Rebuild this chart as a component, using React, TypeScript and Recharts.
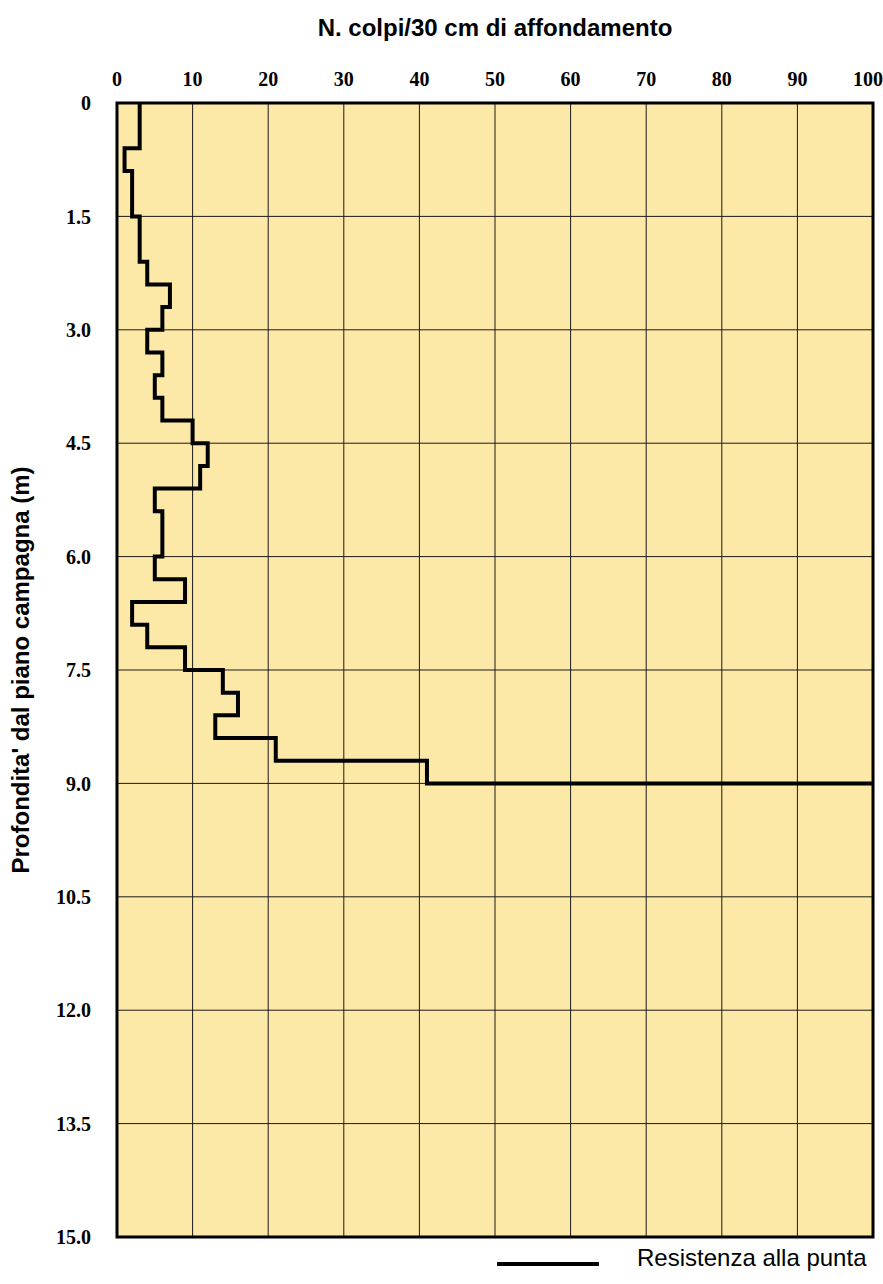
import {
  ScatterChart,
  Scatter,
  XAxis,
  YAxis,
  CartesianGrid,
  ReferenceArea,
  Legend,
} from "recharts";

// depth boundaries of each 30 cm step (m)
const depths = [
  0, 0.3, 0.6, 0.9, 1.2, 1.5, 1.8, 2.1, 2.4, 2.7, 3.0, 3.3, 3.6, 3.9, 4.2, 4.5,
  4.8, 5.1, 5.4, 5.7, 6.0, 6.3, 6.6, 6.9, 7.2, 7.5, 7.8, 8.1, 8.4, 8.7, 9.0,
];
// blow count for each step
const blows = [
  3, 3, 1, 2, 2, 3, 3, 4, 7, 6, 4, 6, 5, 6, 10, 12, 11, 5, 6, 6, 5, 9, 2, 4, 9,
  14, 16, 13, 21, 41,
];
// refusal at the end of the test
const refusalBlows = 100;

const xTicks = [0, 10, 20, 30, 40, 50, 60, 70, 80, 90, 100];
const yTicks = [0, 1.5, 3.0, 4.5, 6.0, 7.5, 9.0, 10.5, 12.0, 13.5, 15.0];

const stepPoints: { n: number; z: number }[] = [];
blows.forEach((b, i) => {
  stepPoints.push({ n: b, z: depths[i] });
  stepPoints.push({ n: b, z: depths[i + 1] });
});
stepPoints.push({ n: refusalBlows, z: depths[depths.length - 1] });

const tickStyle = {
  fontFamily: "'Liberation Serif', serif",
  fontWeight: 700,
  fontSize: 20,
  fill: "#000",
};

const LegendContent = () => (
  <div style={{ position: "relative", height: 30, width: 393 }}>
    <svg
      width={110}
      height={30}
      style={{ position: "absolute", left: 0, top: 0 }}
    >
      <line x1={7} x2={109} y1={16} y2={16} stroke="#000" strokeWidth={4} />
    </svg>
    <span
      style={{
        position: "absolute",
        left: 147,
        top: -4,
        fontFamily: "'Liberation Sans', Arial, sans-serif",
        fontSize: 24,
        lineHeight: "28px",
        color: "#000",
        whiteSpace: "nowrap",
      }}
    >
      Resistenza alla punta
    </span>
  </div>
);

export default function App() {
  return (
    <div style={{ position: "absolute", left: 0, top: 0 }}>
      <ScatterChart
        width={883}
        height={1284}
        margin={{ top: 43, right: 10, bottom: 47, left: 0 }}
      >
        <CartesianGrid
          fill="#FDE9A7"
          fillOpacity={1}
          stroke="#1a1a1a"
          strokeWidth={1}
        />
        <XAxis
          type="number"
          dataKey="n"
          orientation="top"
          domain={[0, 100]}
          ticks={xTicks}
          height={60}
          axisLine={false}
          tickLine={false}
          tickSize={0}
          tickMargin={17}
          tick={tickStyle}
          label={{
            content: ({ viewBox }: any) => (
              <text
                x={viewBox.x + viewBox.width / 2}
                y={36}
                textAnchor="middle"
                fontFamily="'Liberation Sans', Arial, sans-serif"
                fontWeight={700}
                fontSize={24}
                fill="#000"
              >
                N. colpi/30 cm di affondamento
              </text>
            ),
          }}
        />
        <YAxis
          type="number"
          dataKey="z"
          domain={[0, 15]}
          reversed
          ticks={yTicks}
          width={117}
          axisLine={false}
          tickLine={false}
          tickSize={0}
          tickMargin={26}
          tick={tickStyle}
          tickFormatter={(v: number) => (v === 0 ? "0" : v.toFixed(1))}
          label={{
            content: () => (
              <text
                x={20}
                y={670}
                transform="rotate(-90 20 670)"
                textAnchor="middle"
                dominantBaseline="central"
                fontFamily="'Liberation Sans', Arial, sans-serif"
                fontWeight={700}
                fontSize={24}
                fill="#000"
              >
                Profondita' dal piano campagna (m)
              </text>
            ),
          }}
        />
        <ReferenceArea
          x1={0}
          x2={100}
          y1={0}
          y2={15}
          fill="none"
          stroke="#000"
          strokeWidth={3}
        />
        <Scatter
          name="Resistenza alla punta"
          data={stepPoints}
          line={{ stroke: "#000", strokeWidth: 4 }}
          lineType="joint"
          shape={() => <g />}
          isAnimationActive={false}
        />
        <Legend
          verticalAlign="middle"
          align="center"
          layout="horizontal"
          wrapperStyle={{ top: 1248, left: 490, width: 393 }}
          content={<LegendContent />}
        />
      </ScatterChart>
    </div>
  );
}
